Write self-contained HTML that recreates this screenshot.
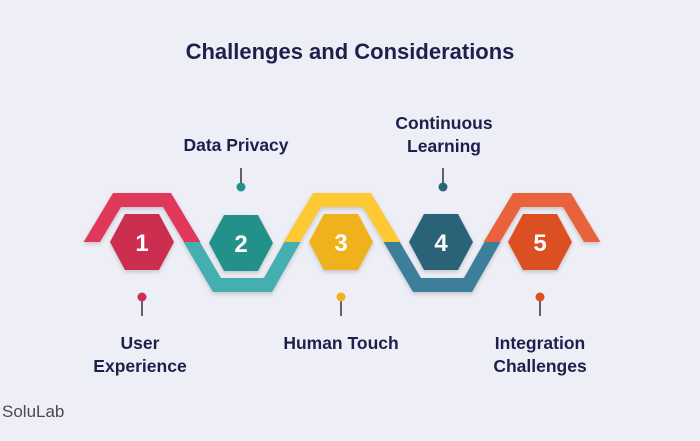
<!DOCTYPE html>
<html><head><meta charset="utf-8"><style>
html,body{margin:0;padding:0;background:#eeeef6;}
svg{display:block;font-family:"Liberation Sans",sans-serif;}
</style></head><body>
<svg width="700" height="441" viewBox="0 0 700 441">
<rect width="700" height="441" fill="#eeeef6"/>
<defs>
<clipPath id="top"><rect x="0" y="0" width="700" height="242"/></clipPath>
<clipPath id="bot"><rect x="0" y="242" width="700" height="200"/></clipPath>
<filter id="sh" x="-20%" y="-20%" width="140%" height="140%"><feDropShadow dx="0" dy="2" stdDeviation="2" flood-opacity="0.18"/></filter>
</defs>
<text x="350" y="59" text-anchor="middle" font-size="22" font-weight="bold" fill="#1e1f4b">Challenges and Considerations</text>
<g fill="none" stroke-width="14" stroke-linejoin="miter" filter="url(#sh)">
<path clip-path="url(#top)" d="M87,250 L117,200 L167,200 L197,250" stroke="#e0385a"/>
<path clip-path="url(#bot)" d="M187,234 L217,285 L268,285 L297,234" stroke="#45aeae"/>
<path clip-path="url(#top)" d="M287,250 L317,200 L367,200 L397,250" stroke="#fdc830"/>
<path clip-path="url(#bot)" d="M387,234 L417,285 L468,285 L497,234" stroke="#3d7f9a"/>
<path clip-path="url(#top)" d="M487,250 L517,200 L567,200 L597,250" stroke="#e8643a"/>
</g>
<g filter="url(#sh)">
<polygon points="110,242 125,214 159,214 174,242 159,270 125,270" fill="#cc2e50"/>
<polygon points="209,243 224,215 258,215 273,243 258,271 224,271" fill="#23918a"/>
<polygon points="309,242 324,214 358,214 373,242 358,270 324,270" fill="#f0b21e"/>
<polygon points="409,242 424,214 458,214 473,242 458,270 424,270" fill="#2b6478"/>
<polygon points="508,242 523,214 557,214 572,242 557,270 523,270" fill="#dc5020"/>
</g>
<g font-size="24" font-weight="bold" fill="#fff" text-anchor="middle">
<text x="142" y="251">1</text><text x="241" y="252">2</text><text x="341" y="251">3</text><text x="441" y="251">4</text><text x="540" y="251">5</text>
</g>
<g stroke="#333" stroke-width="1.5">
<line x1="241" y1="168" x2="241" y2="186"/><line x1="443" y1="168" x2="443" y2="186"/>
<line x1="142" y1="298" x2="142" y2="316"/><line x1="341" y1="298" x2="341" y2="316"/><line x1="540" y1="298" x2="540" y2="316"/>
</g>
<circle cx="241" cy="187" r="4.5" fill="#23918a"/><circle cx="443" cy="187" r="4.5" fill="#2b6478"/>
<circle cx="142" cy="297" r="4.5" fill="#cc2e50"/><circle cx="341" cy="297" r="4.5" fill="#f0b21e"/><circle cx="540" cy="297" r="4.5" fill="#dc5020"/>
<g font-size="17.5" font-weight="bold" fill="#1e1f4b" text-anchor="middle">
<text x="236" y="151">Data Privacy</text>
<text x="444" y="129">Continuous</text><text x="444" y="152">Learning</text>
<text x="140" y="349">User</text><text x="140" y="372">Experience</text>
<text x="341" y="349">Human Touch</text>
<text x="540" y="349">Integration</text><text x="540" y="372">Challenges</text>
</g>
<text x="2" y="417" font-size="17" fill="#4a4a55">SoluLab</text>
</svg>
</body></html>
